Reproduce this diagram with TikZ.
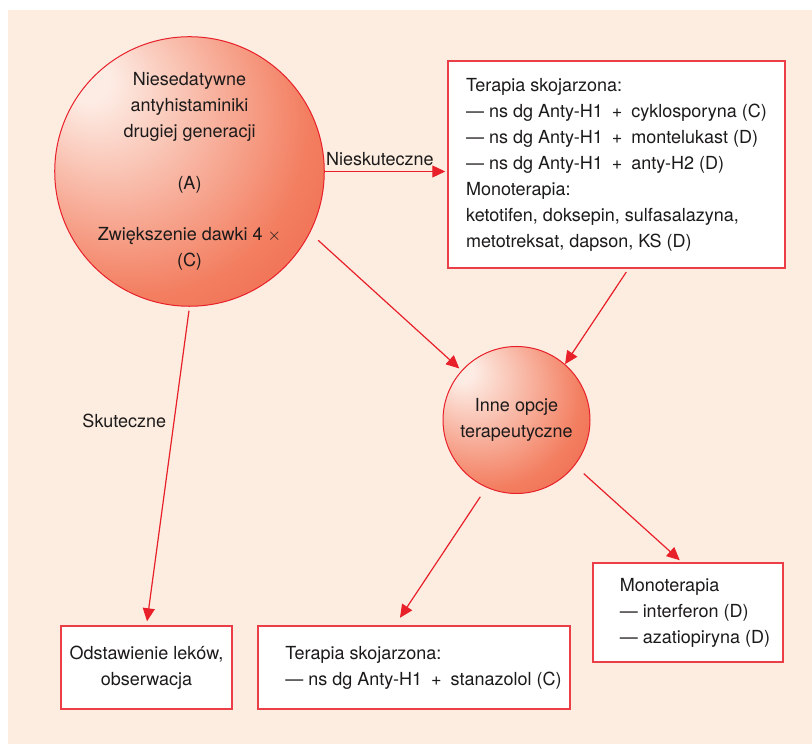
\documentclass[tikz,border=0pt]{standalone}
\usepackage{fontspec}
\setmainfont{TeX Gyre Heros}
\usetikzlibrary{arrows.meta,calc}
\definecolor{peach}{RGB}{253,237,224}
\definecolor{linered}{RGB}{232,32,42}
\definecolor{boxred}{RGB}{236,62,70}
\definecolor{inkgrey}{RGB}{28,26,26}
\definecolor{ballhi}{RGB}{253,236,228}
\definecolor{ballmid}{RGB}{243,126,96}
\definecolor{balllo}{RGB}{232,64,42}
\pgfdeclareradialshading{redball}{\pgfpoint{-20bp}{18bp}}{color(0bp)=(ballhi); color(4bp)=(ballhi); color(32bp)=(ballmid); color(64bp)=(balllo)}
\newcommand{\hplus}{\hspace{4pt}+\hspace{4pt}}

\begin{document}
\begin{tikzpicture}[x=1pt, y=1pt, font=\fontsize{18}{26}\selectfont, text=inkgrey,
    ball/.style={circle, draw=linered, line width=1pt, shading=redball, align=center, inner sep=0pt},
    box/.style={rectangle, draw=boxred, line width=1.5pt, fill=white, align=left},
    arr/.style={draw=linered, line width=1.2pt, -{Triangle[length=13pt,width=12pt]}}]
    %background
        \useasboundingbox (0,0) rectangle (812,744);
        \fill[peach] (8,0) rectangle (812,734);

    %circles
        \node[ball, minimum size=254] (drugs) at (189.5,572.5) {Niesedatywne\\antyhistaminiki\\drugiej generacji\\[25.5pt](A)\\[25.5pt]Zwiększenie dawki 4 $\times$\\(C)};
        \node[ball, minimum size=147] (other) at (516.5,324) {Inne opcje\\terapeutyczne};

    %boxes
        \node[box, minimum width=337, minimum height=207] (multi) at (616.5,579.5) {Terapia skojarzona:\\— ns dg Anty-H1 \hplus{} cyklosporyna (C)\\— ns dg Anty-H1 \hplus{} montelukast (D)\\— ns dg Anty-H1 \hplus{}\ anty-H2 (D)\\Monoterapia:\\ketotifen, doksepin, sulfasalazyna,\\metotreksat, dapson, KS (D)};
        \node[box, minimum width=171, minimum height=83, align=center] (stop) at (146.5,76.5) {Odstawienie leków,\\obserwacja};
        \node[box, minimum width=312, minimum height=83] (combo) at (414,76.5) {\hspace*{19pt}Terapia skojarzona:\\\hspace*{19pt}— ns dg Anty-H1 \hplus{} stanazolol (C)};
        \node[box, minimum width=190, minimum height=99] (mono) at (688,131.5) {\hspace*{14pt}Monoterapia\\\hspace*{14pt}— interferon (D)\\\hspace*{14pt}— azatiopiryna (D)};

    %arrows
        \draw[arr, shorten >=2pt] (drugs.east) -- (drugs.east -| multi.west) node[pos=0.45, above=2pt] (fail) {Nieskuteczne};
        \draw[arr, shorten <=4pt, shorten >=4pt] (drugs.south) -- (stop.north) node[pos=0.36, left=4pt] (ok) {Skuteczne};
        \draw[arr, shorten <=11pt, shorten >=3pt] (drugs.-27) -- (other.138);
        \draw[arr, shorten <=4pt] ([xshift=12pt]multi.south) -- (other.49);
        \draw[arr, shorten <=11pt, shorten >=9pt] (other.-114) -- ([xshift=-19pt]combo.north);
        \draw[arr, shorten <=12pt, shorten >=3pt] (other.-38) -- ([xshift=-6pt]mono.north);
\end{tikzpicture}
\end{document}
